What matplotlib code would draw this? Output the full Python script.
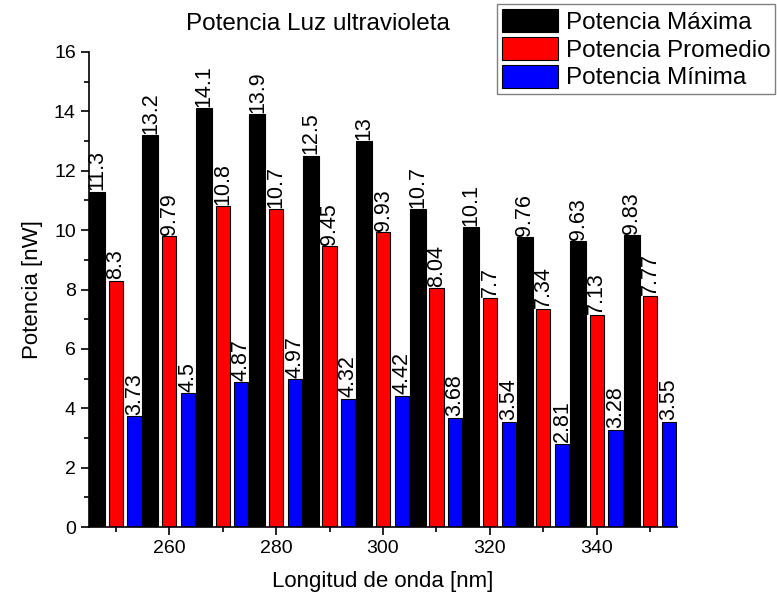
import numpy as np
import matplotlib
matplotlib.use("Agg")
import matplotlib.pyplot as plt
from matplotlib.ticker import MultipleLocator

plt.rcParams['font.family'] = ['Liberation Sans', 'DejaVu Sans']

# wavelengths and measured powers
longitud = [250, 260, 270, 280, 290, 300, 310, 320, 330, 340, 350]
pot_max = [11.3, 13.2, 14.1, 13.9, 12.5, 13, 10.7, 10.1, 9.76, 9.63, 9.83]
pot_prom = [8.3, 9.79, 10.8, 10.7, 9.45, 9.93, 8.04, 7.7, 7.34, 7.13, 7.77]
pot_min = [3.73, 4.5, 4.87, 4.97, 4.32, 4.42, 3.68, 3.54, 2.81, 3.28, 3.55]
series = ["Potencia Máxima", "Potencia Promedio", "Potencia Mínima"]

x = np.array(longitud)
offsets = [-3.5, 0, 3.5]
anchos = [3.0, 2.65, 2.65]

fig = plt.figure(figsize=(7.77, 6.06), dpi=100)
ax = fig.add_axes([89 / 777, 1 - 527 / 606, (677 - 89) / 777, (527 - 52) / 606])

colores = ["black", "red", "blue"]
for vals, c, lab, off, w in zip([pot_max, pot_prom, pot_min], colores, series, offsets, anchos):
    pos = x + off
    ax.bar(pos, vals, width=w, color=c, edgecolor="black", linewidth=0.8, label=lab)
    for px, v in zip(pos, vals):
        ax.text(px, v + 0.05, f"{v:g}", rotation=90, ha="center", va="bottom", fontsize=15.5)

ax.set_xlim(245, 355)
ax.set_ylim(0, 16)
ax.xaxis.set_major_locator(MultipleLocator(20))
ax.xaxis.set_minor_locator(MultipleLocator(10))
ax.yaxis.set_major_locator(MultipleLocator(2))
ax.yaxis.set_minor_locator(MultipleLocator(1))
ax.spines['top'].set_visible(False)
ax.spines['right'].set_visible(False)
ax.spines['left'].set_linewidth(1.2)
ax.spines['bottom'].set_linewidth(1.2)
ax.tick_params(which='major', direction='out', length=6, width=1.2, labelsize=14)
ax.tick_params(which='minor', direction='out', length=3.5, width=1.2)
ax.set_xlabel("Longitud de onda [nm]", fontsize=16, labelpad=10)
ax.set_ylabel("Potencia [nW]", fontsize=16, labelpad=8)

fig.text(318 / 777, 1 - 24 / 606, "Potencia Luz ultravioleta", ha="center", va="center", fontsize=17.5)

leg = fig.legend(loc="upper right", bbox_to_anchor=(775 / 777, 1 - 4 / 606), fontsize=17.5,
                 handlelength=2.3, handleheight=1.1, handletextpad=0.3, labelspacing=0.12,
                 borderpad=0.2, borderaxespad=0, fancybox=False, framealpha=1)
leg.get_frame().set_edgecolor("gray")
leg.get_frame().set_linewidth(1)

fig.savefig("out.png", dpi=100)
